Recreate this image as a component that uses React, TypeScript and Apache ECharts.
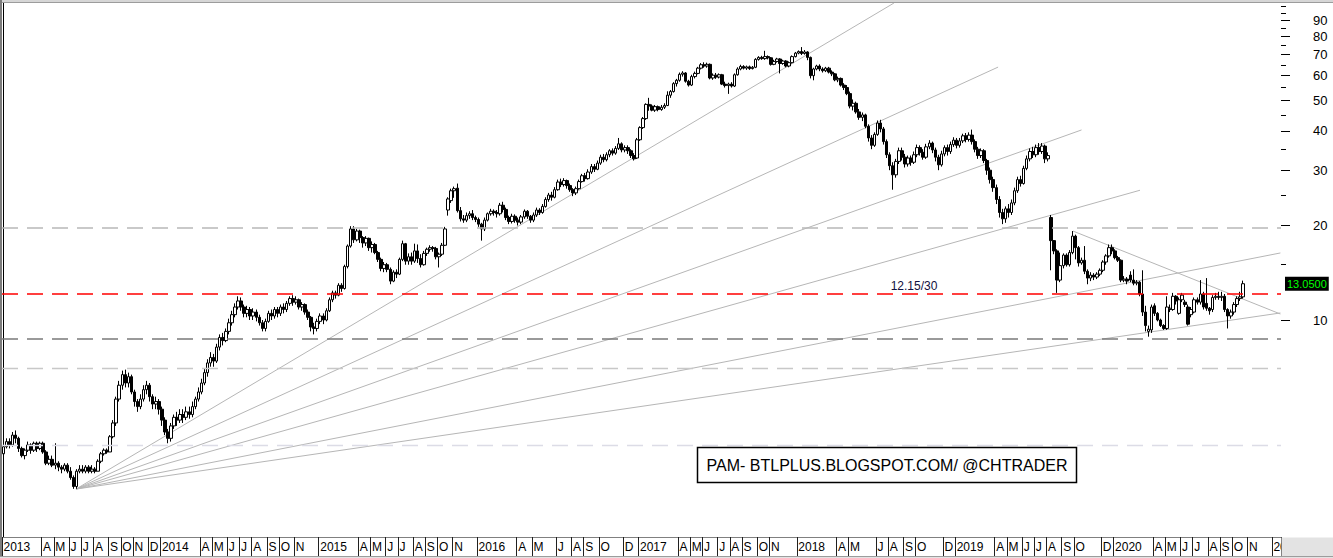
import React, { useEffect, useRef } from "react";
import * as echarts from "echarts";

// ---------- data ----------
const START_DATE = "2013-01-04";
const WEEK_COUNT = 420;
const PRICE_MIN = 2.037;
const PRICE_MAX = 102.98;

// weekly candles: [open, close, low, high]
const weeklyOHLC: number[][] = [
  // 2013
  [3.75,3.95,3.7,4.0],[3.95,4.1,3.9,4.2],[4.1,4.0,3.9,4.2],[4.0,4.3,3.95,4.4],[4.3,4.2,4.05,4.45],
  [4.2,3.9,3.8,4.25],[3.9,3.7,3.65,3.95],[3.7,3.85,3.6,3.9],[3.85,4.0,3.8,4.1],[4.0,3.85,3.75,4.05],
  [3.85,4.05,3.8,4.1],[4.05,3.9,3.8,4.1],[3.9,4.05,3.85,4.1],[4.05,3.8,3.75,4.1],[3.8,3.5,3.45,3.85],
  [3.5,3.6,3.45,3.7],[3.6,3.45,3.4,3.7],[3.45,3.5,3.35,4.05],[3.5,3.4,3.3,3.55],[3.4,3.35,3.25,3.45],
  [3.35,3.45,3.3,3.5],[3.45,3.3,3.25,3.5],[3.3,3.15,3.1,3.4],[3.15,2.95,2.9,3.2],[2.95,3.3,2.9,3.35],
  [3.3,3.35,3.25,3.45],[3.35,3.3,3.25,3.45],[3.3,3.4,3.25,3.45],[3.4,3.3,3.25,3.45],[3.3,3.35,3.25,3.45],
  [3.35,3.3,3.25,3.4],[3.3,3.55,3.3,3.6],[3.55,3.75,3.5,3.8],[3.75,3.85,3.7,3.9],[3.85,3.8,3.75,3.9],
  [3.8,4.25,3.8,4.3],[4.25,4.7,4.2,4.8],[4.7,5.6,4.6,5.7],[5.6,6.2,5.5,6.4],[6.2,6.7,6.0,6.9],
  [6.7,6.3,6.1,6.95],[6.3,6.6,6.1,6.8],[6.6,5.9,5.8,6.7],[5.9,5.5,5.3,6.0],[5.5,5.3,5.1,5.6],
  [5.3,5.6,5.2,5.8],[5.6,6.0,5.5,6.2],[6.0,6.2,5.8,6.4],[6.2,5.7,5.5,6.3],[5.7,5.4,5.2,5.8],
  [5.4,5.5,5.2,5.7],[5.5,5.2,5.0,5.6],
  // 2014
  [5.2,4.8,4.6,5.3],[4.8,4.4,4.3,4.9],[4.4,4.2,4.05,4.5],[4.2,4.6,4.1,4.7],[4.6,4.9,4.5,5.0],
  [4.9,4.8,4.6,5.1],[4.8,5.0,4.7,5.2],[5.0,4.9,4.7,5.2],[4.9,5.1,4.8,5.3],[5.1,5.0,4.85,5.3],
  [5.0,5.3,4.9,5.5],[5.3,5.6,5.2,5.7],[5.6,5.9,5.5,6.1],[5.9,6.3,5.8,6.5],[6.3,6.8,6.2,7.0],
  [6.8,7.3,6.6,7.5],[7.3,7.6,7.1,7.9],[7.6,7.4,7.1,7.8],[7.4,8.2,7.3,8.4],[8.2,8.8,8.0,9.0],
  [8.8,8.6,8.3,9.1],[8.6,9.2,8.5,9.4],[9.2,9.8,9.0,10.1],[9.8,10.4,9.6,10.7],[10.4,11.0,10.2,11.3],
  [11.0,11.5,10.8,11.9],[11.5,11.0,10.7,11.8],[11.0,10.5,10.2,11.2],[10.5,10.8,10.2,11.1],[10.8,10.3,10.0,11.0],
  [10.3,10.6,10.0,10.9],[10.6,10.2,9.9,10.8],[10.2,9.8,9.6,10.4],[9.8,9.4,9.2,10.0],[9.4,9.9,9.2,10.1],
  [9.9,10.5,9.8,10.7],[10.5,10.3,10.0,10.8],[10.3,10.8,10.1,11.0],[10.8,10.5,10.2,11.0],[10.5,11.0,10.3,11.2],
  [11.0,10.8,10.5,11.3],[10.8,11.3,10.6,11.5],[11.3,11.7,11.1,11.9],[11.7,11.4,11.1,12.0],[11.4,11.6,11.2,11.9],
  [11.6,11.0,10.8,11.7],[11.0,11.2,10.7,11.4],[11.2,10.6,10.4,11.3],[10.6,10.2,10.0,10.8],[10.2,9.5,9.2,10.3],
  [9.5,9.4,9.0,9.8],[9.4,9.9,9.2,10.1],
  // 2015
  [9.9,10.3,9.7,10.5],[10.3,10.0,9.7,10.5],[10.0,10.7,9.9,10.9],[10.7,11.6,10.6,11.8],[11.6,12.2,11.4,12.4],
  [12.2,12.0,11.7,12.4],[12.0,12.9,11.9,13.1],[12.9,12.6,12.3,13.1],[12.6,14.8,12.5,15.0],[14.8,17.2,14.6,17.4],
  [17.2,19.5,17.0,19.9],[19.5,18.0,17.6,19.9],[18.0,19.2,17.8,19.5],[19.2,18.3,17.6,19.4],[18.3,17.6,17.0,18.5],
  [17.6,18.2,17.2,18.5],[18.2,17.0,16.6,18.3],[17.0,17.4,16.4,17.8],[17.4,16.4,16.2,17.6],[16.4,15.6,15.3,16.6],
  [15.6,14.6,14.3,15.8],[14.6,15.0,14.2,15.3],[15.0,14.5,14.2,15.2],[14.5,13.3,13.0,14.7],[13.3,14.2,13.2,14.4],
  [14.2,14.0,13.6,14.5],[14.0,15.6,13.9,15.8],[15.6,17.5,15.4,17.9],[17.5,15.4,15.0,17.6],[15.4,15.9,15.0,16.3],
  [15.9,15.4,15.0,16.4],[15.4,16.6,15.2,17.5],[16.6,15.7,15.2,17.4],[15.7,15.0,14.7,16.2],[15.0,16.3,14.9,16.6],
  [16.3,16.8,16.0,17.0],[16.8,17.0,16.5,17.3],[17.0,16.9,16.5,17.2],[16.9,15.9,15.6,17.1],[15.9,16.2,14.7,16.4],
  [16.2,17.3,16.0,17.6],[17.3,19.5,17.2,19.8],[22.4,24.3,21.5,24.6],[24.0,25.8,23.6,26.2],[25.8,26.2,24.5,26.6],
  [26.3,22.3,22.0,27.2],[22.3,21.0,20.6,22.9],[21.0,20.8,20.4,21.6],[20.8,21.5,20.5,22.0],[21.5,21.8,21.0,22.2],
  [21.8,21.2,20.8,22.4],[21.2,20.9,20.5,21.5],
  // 2016
  [20.9,20.2,19.8,21.2],[20.2,19.5,17.9,20.4],[19.5,20.8,19.2,21.2],[20.8,21.8,20.6,22.0],[21.8,22.2,21.5,22.6],
  [22.2,22.0,21.5,22.5],[22.0,21.8,21.2,22.4],[21.8,23.2,21.5,23.6],[23.2,22.5,22.0,23.8],[22.5,21.2,20.8,22.8],
  [21.2,20.6,20.2,21.5],[20.6,21.4,20.3,21.8],[21.4,20.8,20.4,21.7],[20.8,20.5,20.0,21.2],[20.5,21.3,20.2,21.6],
  [21.3,22.2,21.0,22.5],[22.2,21.4,21.0,22.4],[21.4,20.8,20.4,21.6],[20.8,21.6,20.5,22.0],[21.6,22.4,21.3,22.8],
  [22.4,22.0,21.6,22.7],[22.0,23.0,21.8,23.4],[23.0,24.2,22.8,24.6],[24.2,25.0,23.8,25.4],[25.0,24.6,24.0,25.6],
  [24.6,26.0,24.4,26.5],[26.0,27.5,25.8,28.0],[27.5,27.0,26.5,28.2],[27.0,27.8,26.6,28.3],[27.8,26.8,26.2,28.0],
  [26.8,26.0,25.6,27.2],[26.0,25.4,24.8,26.3],[25.4,26.2,25.0,26.6],[26.2,27.6,26.0,28.0],[27.6,28.8,27.4,29.2],
  [28.8,28.2,27.6,29.4],[28.2,29.6,28.0,30.2],[29.6,30.8,29.2,31.4],[30.8,30.2,29.6,31.4],[30.2,31.6,30.0,32.2],
  [31.6,33.0,31.2,33.6],[33.0,32.4,31.8,33.8],[32.4,33.6,32.0,34.2],[33.6,34.6,33.0,35.0],[34.6,34.0,33.4,35.2],
  [34.0,35.2,33.6,35.8],[35.2,36.4,34.8,38.0],[36.4,34.8,34.2,36.8],[34.8,35.4,34.2,36.0],[35.4,34.6,33.8,36.0],
  [34.6,33.4,32.8,35.0],[33.4,32.6,32.2,34.0],
  // 2017
  [32.8,37.5,32.6,38.0],[37.5,41.0,37.2,41.4],[41.0,43.8,40.6,44.3],[43.8,48.6,43.4,49.0],[48.6,48.0,46.4,51.0],
  [48.0,46.6,46.2,48.6],[46.6,47.8,46.0,48.4],[47.8,46.8,46.2,48.2],[46.8,47.6,46.4,48.4],[47.6,48.2,47.0,49.0],
  [48.2,52.0,48.0,53.5],[52.0,53.4,51.0,54.0],[53.4,56.6,53.0,57.2],[56.6,58.0,55.4,58.6],[58.0,60.6,57.4,61.4],
  [60.6,61.2,59.6,62.0],[61.2,57.6,57.0,61.6],[57.6,56.0,55.4,58.2],[56.0,59.6,55.6,60.4],[59.6,61.0,58.8,61.8],
  [61.0,63.4,60.6,64.0],[63.4,65.0,62.8,65.8],[65.0,64.4,63.6,66.2],[64.4,65.2,63.6,66.0],[65.2,59.0,58.4,65.6],
  [59.0,60.2,58.2,61.0],[60.2,59.4,58.6,61.2],[59.4,60.4,58.8,61.0],[60.4,56.4,56.0,60.8],[56.4,55.8,55.0,57.4],
  [55.8,56.4,52.5,57.0],[56.4,55.6,55.0,57.2],[55.6,60.4,55.2,61.0],[60.4,63.0,60.0,63.8],[63.0,64.2,62.4,65.0],
  [64.2,63.4,62.8,64.8],[63.4,64.0,62.6,64.6],[64.0,63.2,62.6,64.6],[63.2,63.8,62.8,64.4],[63.8,67.6,63.4,68.2],
  [67.6,68.6,67.0,69.2],[68.6,68.0,67.4,69.4],[68.0,69.0,67.4,72.0],[69.0,68.4,67.6,69.6],[68.4,65.2,64.6,68.8],
  [65.2,66.6,64.8,67.4],[66.6,67.8,66.0,68.4],[67.8,65.6,61.0,68.2],[65.6,66.8,65.0,67.4],[66.8,64.4,63.8,67.2],
  [64.4,66.0,63.8,66.6],[66.0,69.0,65.6,69.6],
  // 2018
  [69.0,70.8,68.6,71.4],[70.8,71.6,70.2,72.2],[71.6,70.6,69.8,74.0],[70.6,71.4,70.0,72.4],[71.4,68.6,67.2,71.8],
  [68.6,60.0,58.8,69.0],[60.0,63.0,58.0,63.6],[63.0,64.4,62.4,65.0],[64.4,63.0,62.0,65.2],[63.0,62.2,61.4,63.8],
  [62.2,63.4,61.6,64.0],[63.4,61.6,61.0,64.0],[61.6,60.8,59.8,62.4],[60.8,58.2,57.6,61.2],[58.2,58.8,57.2,59.6],
  [58.8,56.0,55.4,59.2],[56.0,55.0,54.0,56.8],[55.0,52.6,52.0,56.0],[52.6,48.0,47.2,53.4],[48.0,49.0,46.5,50.4],
  [49.0,46.0,45.4,49.6],[46.0,44.2,43.4,47.0],[44.2,45.0,43.0,45.8],[45.0,41.4,40.8,45.4],[41.4,38.0,37.0,42.0],
  [38.0,36.0,35.0,38.8],[36.0,39.0,35.6,39.6],[39.0,42.4,38.6,43.2],[42.4,40.6,39.6,43.4],[40.6,37.0,36.2,41.2],
  [37.0,33.6,32.8,37.6],[33.6,31.0,30.0,34.2],[31.0,29.0,26.0,31.8],[29.0,32.0,28.4,32.6],[32.0,34.6,31.4,35.4],
  [34.6,33.0,32.2,35.4],[33.0,31.4,30.6,33.8],[31.4,32.8,30.8,33.4],[32.8,31.8,31.0,33.4],[31.8,33.6,31.4,34.4],
  [33.6,35.4,33.0,36.2],[35.4,34.2,33.4,36.0],[34.2,33.0,32.4,35.0],[33.0,35.6,32.6,36.4],[35.6,36.6,35.0,37.4],
  [36.6,34.8,34.0,37.0],[34.8,33.0,32.0,35.4],[33.0,31.2,30.0,33.6],[31.2,33.8,30.8,34.6],[33.8,35.4,33.2,36.0],
  [35.4,34.4,33.4,36.2],[34.4,36.2,33.8,37.0],
  // 2019
  [36.2,37.4,35.6,38.2],[37.4,36.0,35.2,38.0],[36.0,37.2,35.4,38.0],[37.2,38.6,36.6,39.2],[38.6,37.6,36.8,39.4],
  [37.6,38.8,37.0,39.6],[38.8,37.0,36.2,40.4],[37.0,35.0,34.2,37.6],[35.0,33.4,32.6,35.6],[33.4,34.6,32.8,35.2],
  [34.6,32.2,31.6,35.0],[32.2,30.0,29.0,32.6],[30.0,28.0,27.2,30.6],[28.0,26.4,25.6,28.6],[26.4,24.2,23.4,27.0],
  [24.2,22.0,21.2,24.8],[22.0,21.0,20.2,22.6],[21.0,22.6,20.4,23.0],[22.6,22.0,21.2,23.4],[22.0,23.6,21.6,24.2],
  [23.6,25.8,23.2,26.4],[25.8,28.0,25.4,28.6],[28.0,27.2,26.6,28.8],[27.2,30.4,27.0,31.0],[30.4,32.6,30.0,33.4],
  [32.6,34.4,32.0,35.2],[34.4,33.6,32.8,35.6],[33.6,35.4,33.0,36.2],[35.4,34.4,33.6,36.6],[34.4,35.8,33.8,36.6],
  [35.8,32.6,31.6,36.2],[32.6,33.4,32.0,34.2],[21.2,17.9,14.4,21.6],[17.9,16.6,16.2,17.2],[16.6,13.4,12.2,16.8],
  [13.4,14.9,13.2,16.4],[14.9,16.1,14.6,16.3],[16.1,15.0,14.8,16.3],[15.0,16.4,14.8,16.7],[16.4,18.5,16.2,19.2],
  [18.5,17.0,15.6,18.7],[17.0,15.2,14.8,17.2],[15.2,15.5,15.0,15.8],[15.5,14.3,14.0,17.2],[14.3,13.6,13.0,14.5],
  [13.6,13.9,13.3,14.2],[13.9,13.7,13.4,14.1],[13.7,14.0,13.5,14.2],[14.0,14.4,13.8,14.6],[14.4,15.3,14.2,15.5],
  [15.3,16.0,15.0,16.2],[16.0,17.0,15.8,17.4],
  // 2020
  [17.0,16.6,16.2,17.4],[16.6,15.8,15.6,16.8],[15.8,15.5,15.3,16.0],[15.5,13.4,13.2,15.6],[13.4,13.5,13.2,13.8],
  [13.5,13.3,13.0,13.7],[13.9,13.4,13.2,14.3],[13.4,13.1,12.9,14.5],[13.1,13.2,12.9,13.4],[13.2,12.1,11.9,13.3],
  [12.1,10.6,10.3,14.4],[10.6,9.6,9.2,11.1],[9.2,9.35,8.85,9.6],[9.3,11.0,9.1,11.2],[11.1,10.5,10.3,11.3],
  [10.5,10.0,9.9,10.6],[10.0,9.6,9.5,10.1],[9.6,9.4,9.3,9.7],[9.4,11.0,9.3,11.9],[10.8,10.9,10.6,11.2],
  [10.8,11.9,10.7,12.2],[11.9,11.5,11.2,12.0],[10.5,11.6,10.4,11.8],[11.6,12.0,11.4,12.2],[11.4,11.2,11.0,11.6],
  [11.0,9.7,9.6,11.2],[10.4,10.8,10.2,11.0],[10.6,11.6,10.5,11.8],[11.6,11.4,11.2,11.8],[11.4,12.1,11.2,13.4],
  [12.1,11.0,10.8,12.3],[11.3,10.9,10.7,13.6],[10.9,10.7,10.4,11.0],[10.8,11.8,10.6,12.0],[11.8,11.9,11.6,12.2],
  [11.9,11.8,11.6,12.3],[11.8,11.9,11.5,12.3],[11.9,10.8,10.6,12.1],[10.8,10.3,9.4,10.9],[10.3,10.6,10.1,10.8],
  [10.6,11.2,10.4,11.4],[11.2,11.7,11.0,11.9],[11.7,11.85,11.5,12.3],[11.85,13.05,11.7,13.35],
];

// months that carry a label on the date strip (Jan shows the year)
const tickMonths = [
  "2013-01","2013-04","2013-05","2013-06","2013-07","2013-08","2013-09","2013-10","2013-11","2013-12",
  "2014-01","2014-04","2014-05","2014-06","2014-07","2014-08","2014-09","2014-10","2014-11",
  "2015-01","2015-04","2015-05","2015-06","2015-07","2015-08","2015-09","2015-10","2015-11",
  "2016-01","2016-04","2016-05","2016-07","2016-08","2016-09","2016-10","2016-12",
  "2017-01","2017-04","2017-05","2017-06","2017-07","2017-08","2017-09","2017-10","2017-11",
  "2018-01","2018-04","2018-05","2018-07","2018-08","2018-09","2018-10","2018-12",
  "2019-01","2019-04","2019-05","2019-06","2019-07","2019-08","2019-09","2019-10","2019-12",
  "2020-01","2020-04","2020-05","2020-06","2020-07","2020-08","2020-09","2020-10","2020-11",
  "2021-01",
];
const monthLetters = ["J","F","M","A","M","J","J","A","S","O","N","D"];

const priceAxisLabels = [10, 20, 30, 40, 50, 60, 70, 80, 90];
const priceAxisMinorTicks = [15, 25, 35, 45, 55, 65, 75, 85, 95, 100];

// horizontal levels (dashed)
const levelValues = [19.7, 12.15, 8.7, 7.0, 4.0];
const lastPrice = 13.05;
const lastPriceText = "13.0500";
const levelNote = { index: 299, value: 12.15, text: "12.15/30" };

// trend lines in data space: [startWeek, startPrice, endWeek, endPrice]
const fanLines = [
  [23.8, 2.895, 292.4, 102.2],
  [23.8, 2.895, 326.6, 63.9],
  [23.8, 2.895, 354.0, 40.3],
  [23.8, 2.895, 373.2, 25.9],
  [23.8, 2.895, 419.3, 16.35],
  [23.8, 2.895, 419.3, 10.53],
  [351.2, 19.2, 419.3, 10.45],
];

const watermark = "PAM- BTLPLUS.BLOGSPOT.COM/ @CHTRADER";

// ---------- helpers ----------
function buildCategories(): string[] {
  const out: string[] = [];
  const t0 = Date.parse(START_DATE + "T00:00:00Z");
  for (let i = 0; i < WEEK_COUNT; i++) {
    const d = new Date(t0 + i * 7 * 86400000);
    out.push(d.toISOString().slice(0, 10));
  }
  return out;
}

const FONT = '"Liberation Sans", Arial, Helvetica, sans-serif';

export default function App() {
  const ref = useRef<HTMLDivElement>(null);

  useEffect(() => {
    document.body.style.margin = "0";
    if (!ref.current) return;
    const chart = echarts.init(ref.current, null, { renderer: "svg" });

    const categories = buildCategories();
    const monthStart = new Map<string, number>();
    categories.forEach((c, i) => {
      const key = c.slice(0, 7);
      if (!monthStart.has(key)) monthStart.set(key, i);
    });
    const labelByIndex = new Map<number, string>();
    tickMonths.forEach((m) => {
      const idx = monthStart.get(m);
      if (idx == null) return;
      const mon = parseInt(m.slice(5, 7), 10);
      labelByIndex.set(idx, mon === 1 ? m.slice(0, 4) : monthLetters[mon - 1]);
    });

    const lmin = Math.log10(PRICE_MIN);
    const lmax = Math.log10(PRICE_MAX);

    const levelStyles = [
      { color: "#b8b8b8", width: 1.5, type: [16, 9] },
      { color: "#ff0000", width: 1.6, type: [16, 9] },
      { color: "#7a7a7a", width: 1.6, type: [16, 9] },
      { color: "#c8c8c8", width: 1.3, type: [16, 9] },
      { color: "#dcdce6", width: 1.3, type: [16, 9] },
    ];

    const lineSeries = fanLines.map((l) => ({
      type: "line",
      xAxisIndex: 1,
      yAxisIndex: 0,
      data: [[l[0], l[1]], [l[2], l[3]]],
      symbol: "none",
      silent: true,
      z: 1,
      lineStyle: { color: "#b6b6b6", width: 1 },
    }));

    const option: any = {
      animation: false,
      backgroundColor: "#ffffff",
      grid: { left: 2, right: 52, top: 2, bottom: 21, containLabel: false, outerBoundsMode: "none" },
      xAxis: [
        {
          type: "category",
          data: categories,
          boundaryGap: true,
          position: "bottom",
          axisLine: { show: true, lineStyle: { color: "#808080", width: 1 } },
          axisTick: {
            show: true,
            interval: (i: number) => labelByIndex.has(i),
            length: 20,
            lineStyle: { color: "#202020", width: 1 },
          },
          axisLabel: {
            show: true,
            interval: (i: number) => labelByIndex.has(i),
            formatter: (_v: string, i: number) => labelByIndex.get(i) ?? "",
            align: "left",
            margin: 4,
            fontSize: 12,
            fontFamily: FONT,
            color: "#000",
            hideOverlap: false,
          },
          splitLine: { show: false },
        },
        { type: "value", min: -0.5, max: WEEK_COUNT - 0.5, show: false, splitLine: { show: false } },
      ],
      yAxis: [
        {
          type: "log",
          logBase: 10,
          min: PRICE_MIN,
          max: PRICE_MAX,
          position: "right",
          axisLine: { show: true, lineStyle: { color: "#000", width: 1 } },
          axisTick: { show: false },
          axisLabel: { show: false },
          splitLine: { show: false },
          minorTick: { show: false },
          minorSplitLine: { show: false },
        },
        {
          type: "value",
          min: lmin,
          max: lmax,
          position: "right",
          axisLine: { show: false },
          axisTick: {
            show: true,
            customValues: priceAxisLabels.map((v) => Math.log10(v)),
            length: 9,
            lineStyle: { color: "#000", width: 1 },
          },
          axisLabel: {
            show: true,
            customValues: priceAxisLabels.map((v) => Math.log10(v)),
            formatter: (v: number) => String(Math.round(Math.pow(10, v))),
            margin: 32,
            fontSize: 13,
            fontFamily: FONT,
            color: "#000",
          },
          splitLine: { show: false },
        },
        {
          type: "value",
          min: lmin,
          max: lmax,
          position: "right",
          axisLine: { show: false },
          axisTick: {
            show: true,
            customValues: priceAxisMinorTicks.map((v) => Math.log10(v)),
            length: 5,
            lineStyle: { color: "#000", width: 1 },
          },
          axisLabel: { show: false },
          splitLine: { show: false },
        },
      ],
      series: [
        ...lineSeries,
        {
          type: "candlestick",
          xAxisIndex: 0,
          yAxisIndex: 0,
          data: weeklyOHLC,
          barWidth: 3,
          z: 3,
          itemStyle: {
            color: "#ffffff",
            color0: "#000000",
            borderColor: "#000000",
            borderColor0: "#000000",
            borderWidth: 1,
          },
          markLine: {
            silent: true,
            symbol: ["none", "none"],
            label: { show: false },
            data: [
              ...levelValues.map((v, k) => ({ yAxis: v, lineStyle: levelStyles[k] })),
              {
                yAxis: lastPrice,
                lineStyle: { color: "rgba(255,255,255,0)", width: 0, type: "solid" },
                label: {
                  show: true,
                  position: "end",
                  distance: 4,
                  formatter: lastPriceText,
                  color: "#00ff00",
                  backgroundColor: "#000000",
                  fontSize: 11,
                  fontFamily: FONT,
                  padding: [2, 2, 1, 2],
                },
              },
            ],
          },
          markPoint: {
            silent: true,
            symbol: "circle",
            symbolSize: 1,
            itemStyle: { color: "rgba(0,0,0,0)" },
            data: [
              {
                coord: [levelNote.index, levelNote.value],
                label: {
                  show: true,
                  position: "top",
                  distance: 1,
                  formatter: levelNote.text,
                  color: "#101040",
                  fontSize: 12,
                  fontFamily: FONT,
                },
              },
            ],
          },
        },
      ],
      graphic: [
        { type: "rect", z: 100, silent: true, shape: { x: 0, y: 0, width: 1333, height: 2 }, style: { fill: "#d6d6d6" } },
        { type: "line", z: 100, silent: true, shape: { x1: 0, y1: 2.5, x2: 1333, y2: 2.5 }, style: { stroke: "#9c9c9c", lineWidth: 1 } },
        { type: "rect", z: 100, silent: true, shape: { x: 0, y: 0, width: 2, height: 558 }, style: { fill: "#7c7c7c" } },
        { type: "rect", z: 100, silent: true, shape: { x: 1281.5, y: 537.5, width: 52, height: 21 }, style: { fill: "#e3e3e3" } },
        { type: "line", z: 100, silent: true, shape: { x1: 0, y1: 556.5, x2: 1333, y2: 556.5 }, style: { stroke: "#9c9c9c", lineWidth: 1 } },
        { type: "rect", z: 100, silent: true, shape: { x: 0, y: 557, width: 1333, height: 1 }, style: { fill: "#e3e3e3" } },
        {
          type: "rect",
          z: 100,
          silent: true,
          shape: { x: 697.5, y: 447.5, width: 379, height: 35 },
          style: { fill: "#ffffff", stroke: "#000000", lineWidth: 1.5 },
        },
        {
          type: "text",
          z: 101,
          silent: true,
          x: 887,
          y: 465,
          style: {
            text: watermark,
            font: "16px " + FONT,
            fill: "#000000",
            textAlign: "center",
            textVerticalAlign: "middle",
          },
        },
      ],
    };

    chart.setOption(option);
    return () => chart.dispose();
  }, []);

  return (
    <div
      ref={ref}
      style={{ position: "fixed", left: 0, top: 0, width: 1333, height: 558, background: "#fff" }}
    />
  );
}
